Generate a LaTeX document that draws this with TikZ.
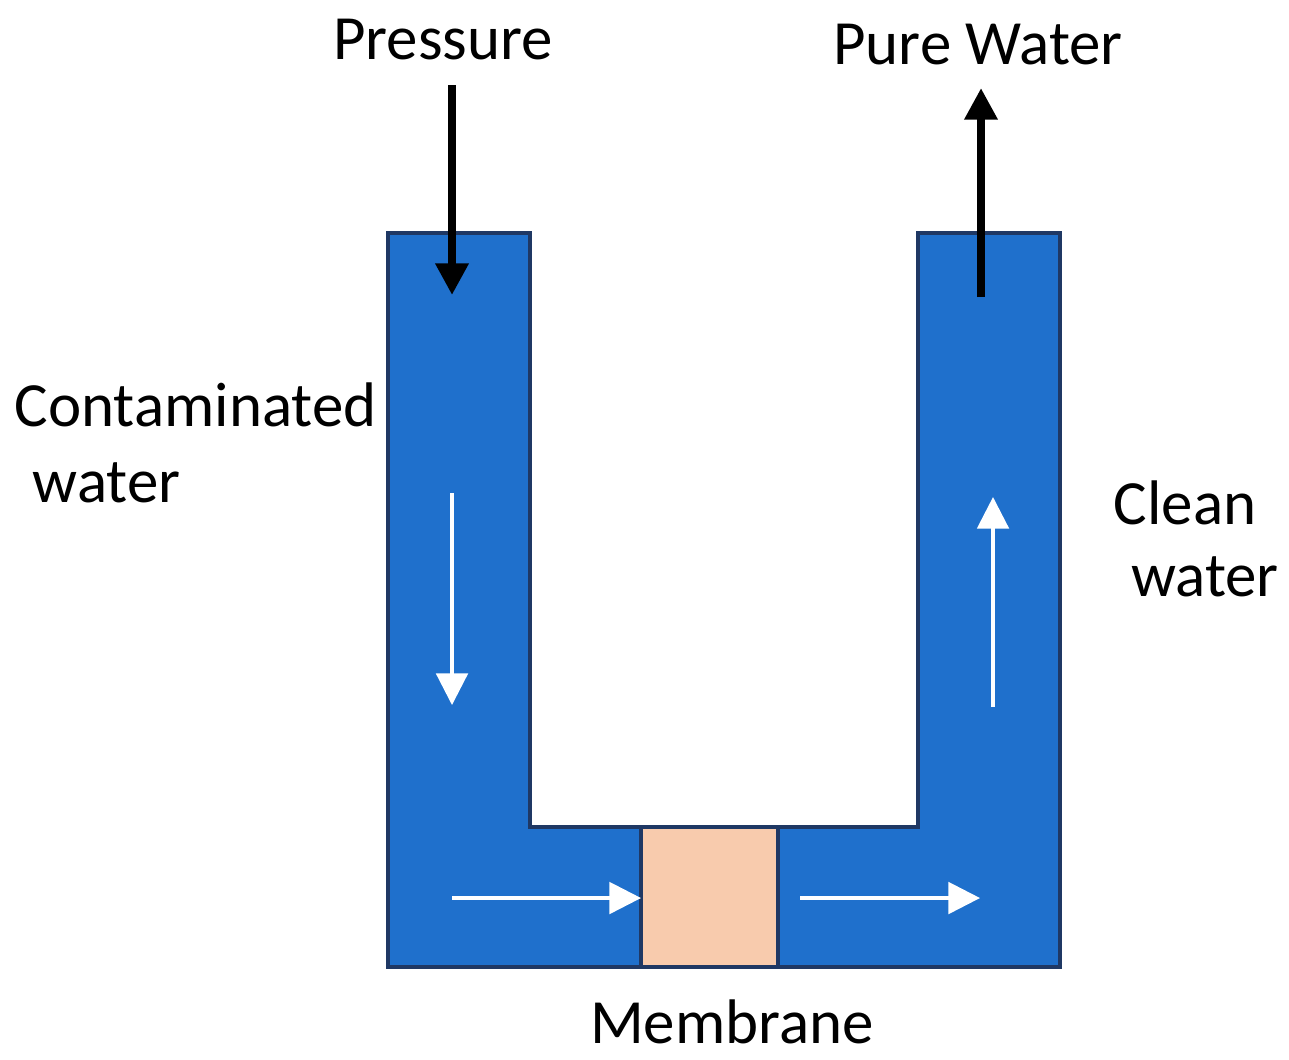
\documentclass[tikz,border=0pt]{standalone}
\usepackage{fontspec}
\setmainfont{Carlito}
\usetikzlibrary{arrows.meta}
\definecolor{waterblue}{HTML}{1F70CC}
\definecolor{pipeedge}{HTML}{1F3864}
\definecolor{membranefill}{HTML}{F8CBAD}
\tikzset{
  label/.style={font=\fontsize{17.9}{21}\selectfont, inner sep=0pt},
  blackflow/.style={-{Triangle[length=9pt,width=9pt]}, line width=2.2pt},
  whiteflow/.style={white, -{Triangle[length=9pt,width=9pt]}, line width=0.9pt}
}
\begin{document}
\begin{tikzpicture}[x=0.01cm, y=-0.01cm]
    \useasboundingbox (0,0) rectangle (1289,1059);
    % U-Rohr
    \draw[fill=waterblue, draw=pipeedge, line width=1.2pt]
        (388,233) -- (530,233) -- (530,827) -- (918,827) -- (918,233)
        -- (1060,233) -- (1060,967) -- (388,967) -- cycle;
    % Membran
    \draw[fill=membranefill, draw=pipeedge, line width=1.2pt] (641,827) rectangle (778,967);
    % Koordinaten
    \coordinate (pin) at (452,85);
    \coordinate (pout) at (452,295);
    \coordinate (win) at (981,297);
    \coordinate (wout) at (981,88);
    \coordinate (la) at (452,493);
    \coordinate (lb) at (452,705);
    \coordinate (ba) at (452,898);
    \coordinate (bb) at (641,898);
    \coordinate (bc) at (800,898);
    \coordinate (bd) at (980,898);
    \coordinate (ra) at (993,707);
    \coordinate (rb) at (993,497);
    % Pfeile
    \draw[blackflow] (pin) -- (pout);
    \draw[blackflow] (win) -- (wout);
    \draw[whiteflow] (la) -- (lb);
    \draw[whiteflow] (ba) -- (bb);
    \draw[whiteflow] (bc) -- (bd);
    \draw[whiteflow] (ra) -- (rb);
    % Beschriftungen
    \node[label] (pressure) at (443,40) {Pressure};
    \node[label] (purewater) at (978,45) {Pure Water};
    \node[label, anchor=west] (contam) at (14,405) {Contaminated};
    \node[label, anchor=west] (contamw) at (32,483) {water};
    \node[label] (clean) at (1185,503) {Clean};
    \node[label] (cleanw) at (1205,577) {water};
    \node[label] (membrane) at (732,1022) {Membrane};
\end{tikzpicture}
\end{document}
